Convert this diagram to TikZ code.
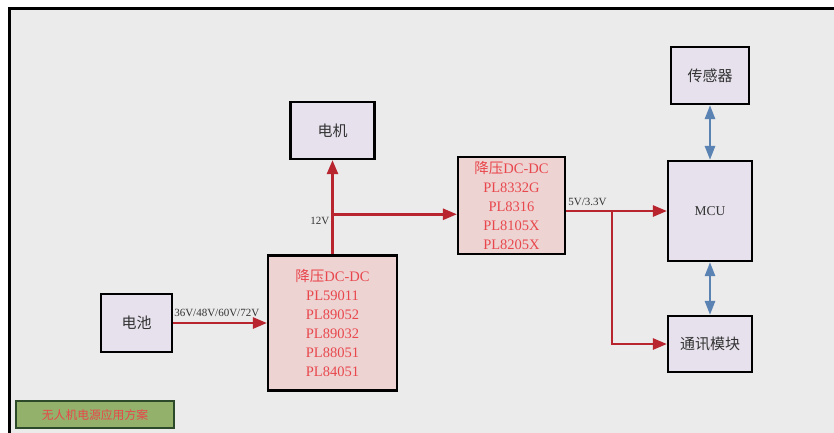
\documentclass[tikz,border=0pt]{standalone}
\usepackage{fontspec}
\setmainfont{Liberation Serif}
\newfontfamily\cjk{Noto Sans CJK SC}
\usetikzlibrary{arrows.meta,positioning,calc}
\definecolor{panel}{HTML}{EBEBEB}
\definecolor{lilac}{HTML}{E6E1EC}
\definecolor{rosepale}{HTML}{EED3D3}
\definecolor{redtext}{HTML}{E8474C}
\definecolor{wire}{HTML}{B8252F}
\definecolor{sigblue}{HTML}{5A83B3}
\definecolor{olive}{HTML}{93B16A}
\definecolor{olivedark}{HTML}{2C4A2A}
\definecolor{ink}{HTML}{333333}

\begin{document}
\begin{tikzpicture}[x=1pt,y=-1pt,
 block/.style={draw=black,line width=2.2pt,fill=lilac,text=ink,inner sep=0pt,
   font=\cjk\fontsize{15}{18}\selectfont},
 buck/.style={draw=black,line width=2.2pt,fill=rosepale,text=redtext,inner sep=0pt,
   align=center,font=\fontsize{14.5}{19}\selectfont},
 pwr/.style={-{Triangle[length=14pt,width=11pt]},line width=2.6pt,color=wire},
 sig/.style={{Triangle[length=14pt,width=10pt]}-{Triangle[length=14pt,width=10pt]},line width=2.6pt,color=sigblue},
 vlabel/.style={text=ink,inner sep=1pt,font=\fontsize{11}{13}\selectfont}]
 \useasboundingbox (0,0) rectangle (834,432);
 \clip (0,0) rectangle (834,432);
 \fill[white] (0,0) rectangle (834,432);
 \draw[line width=2.6pt,fill=panel] (9.5,8.5) rectangle (860,460);
 % power path
 \node[block,minimum width=71pt,minimum height=58pt] (batt) at (136.5,323) {电池};
 \node[buck,minimum width=129pt,minimum height=135pt] (buckA) at (332.5,323)
   {{\cjk 降压}DC-DC\\PL59011\\PL89052\\PL89032\\PL88051\\PL84051};
 \node[block,minimum width=84pt,minimum height=57pt] (motor) at (332.5,130.5) {电机};
 \node[buck,minimum width=107pt,minimum height=97pt] (buckB) at (511.5,205.5)
   {{\cjk 降压}DC-DC\\PL8332G\\PL8316\\PL8105X\\PL8205X};
 % control side
 \node[block,minimum width=84pt,minimum height=100pt,font=\fontsize{13.5}{16}\selectfont] (mcu) at (710,211) {MCU};
 \node[block,minimum width=78pt,minimum height=57pt] (sensor) at (710,75.5) {传感器};
 \node[block,minimum width=84pt,minimum height=56pt] (comm) at (710,344) {通讯模块};
 \node[draw=olivedark,line width=2pt,fill=olive,text=redtext,minimum width=158pt,minimum height=27pt,
   inner sep=0pt,font=\cjk\fontsize{11.8}{14}\selectfont] (title) at (95,414.5) {无人机电源应用方案};
 % connectors
 \coordinate (tap12) at ($(buckA.north)!0.5!(buckA.north |- motor.south)+(0,7)$);
 \coordinate (tap5) at ($(mcu.west -| buckB.east)+(46,0)$);
 \draw[pwr] (batt) -- (buckA);
 \draw[pwr] (buckA.north) -- (buckA.north |- motor.south);
 \draw[pwr] (tap12) -- (tap12 -| buckB.west);
 \draw[pwr] (mcu.west -| buckB.east) -- (mcu.west);
 \draw[pwr] (tap5) |- (comm.west);
 \draw[sig] (sensor) -- (mcu);
 \draw[sig] (mcu) -- (comm);
 \node[vlabel,anchor=south west] (lbat) at (batt.east |- 0,318) {36V/48V/60V/72V};
 \node[vlabel,anchor=east] (l12) at ($(tap12)+(-2,7)$) {12V};
 \node[vlabel,anchor=south west] (l5) at ($(mcu.west -| buckB.east)+(1,-4)$) {5V/3.3V};
\end{tikzpicture}
\end{document}
